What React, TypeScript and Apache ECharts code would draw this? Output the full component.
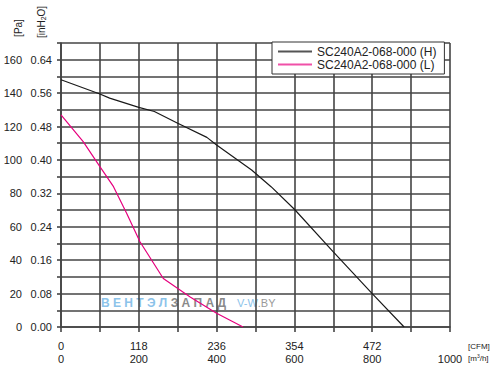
import React, { useEffect, useRef } from "react";
import * as echarts from "echarts";

const seriesNames = ["SC240A2-068-000 (H)", "SC240A2-068-000 (L)"];
const hCurve: [number, number][] = [
  [0, 148], [100, 139.5], [125, 137], [200, 131.5], [240, 129], [300, 122],
  [375, 113.5], [400, 109], [490, 94], [540, 84], [600, 70.5], [700, 45],
  [800, 20], [882, 0],
];
const lCurve: [number, number][] = [
  [0, 127], [57, 111], [100, 96], [135, 84], [169, 68], [203, 51],
  [263, 29], [332, 18], [400, 8.2], [468, 0],
];
const paLabels = ["0", "20", "40", "60", "80", "100", "120", "140", "160"];
const inLabels = ["0.00", "0.08", "0.16", "0.24", "0.32", "0.40", "0.48", "0.56", "0.64"];
const cfmLabels = ["0", "118", "236", "354", "472", ""];
const m3hLabels = ["0", "200", "400", "600", "800", "1000"];

const FONT = "Arial, 'Liberation Sans', sans-serif";
const GRID = "#444";

export default function App() {
  const ref = useRef<HTMLDivElement>(null);
  useEffect(() => {
    if (!ref.current) return;
    const chart = echarts.init(ref.current, null, { renderer: "svg" });
    const yLabel = (arr: string[]) => (v: number) =>
      v % 20 === 0 && v / 20 < arr.length ? arr[v / 20] : "";
    chart.setOption({
      animation: false,
      backgroundColor: "#fff",
      grid: { left: 61, top: 43, right: 51, bottom: 40 },
      legend: {
        left: 272,
        top: 42,
        orient: "vertical",
        width: 178,
        backgroundColor: "#fff",
        borderColor: "#333",
        borderWidth: 1,
        borderRadius: 0,
        padding: [3, 8, 3, 6],
        itemGap: 0,
        itemWidth: 34,
        itemHeight: 2,
        icon: "rect",
        textStyle: { fontFamily: FONT, fontSize: 12, color: "#222", lineHeight: 13 },
        data: seriesNames,
      },
      xAxis: {
        type: "value",
        min: 0,
        max: 1000,
        interval: 100,
        axisLine: { show: true, lineStyle: { color: GRID, width: 1.6 } },
        axisTick: { show: true, length: 5, lineStyle: { color: GRID, width: 1.6 } },
        splitLine: { show: true, lineStyle: { color: GRID, width: 1.6 } },
        axisLabel: {
          margin: 12,
          fontFamily: FONT,
          fontSize: 11,
          color: "#222",
          lineHeight: 13,
          showMaxLabel: true,
          formatter: (v: number) => {
            if (v % 200 !== 0) return "";
            const i = v / 200;
            return `${cfmLabels[i]}\n${m3hLabels[i]}`;
          },
        },
      },
      yAxis: [
        {
          type: "value",
          min: 0,
          max: 170,
          interval: 10,
          position: "left",
          axisLine: { show: true, lineStyle: { color: GRID, width: 1.6 } },
          axisTick: { show: true, length: 4, lineStyle: { color: GRID, width: 1.6 } },
          splitLine: { show: true, lineStyle: { color: GRID, width: 1.6 } },
          axisLabel: {
            margin: 9,
            fontFamily: FONT,
            fontSize: 11,
            color: "#222",
            showMaxLabel: true,
            formatter: yLabel(inLabels),
          },
        },
        {
          type: "value",
          min: 0,
          max: 170,
          interval: 10,
          position: "left",
          axisLine: { show: false },
          axisTick: { show: false },
          splitLine: { show: false },
          axisLabel: {
            margin: 39,
            fontFamily: FONT,
            fontSize: 11,
            color: "#222",
            formatter: yLabel(paLabels),
          },
        },
      ],
      graphic: [
        {
          type: "text",
          x: 18,
          y: 28,
          rotation: Math.PI / 2,
          style: {
            text: "[Pa]",
            fontFamily: FONT,
            fontSize: 10,
            fill: "#222",
            align: "center",
            verticalAlign: "middle",
          },
        },
        {
          type: "text",
          x: 41,
          y: 22,
          rotation: Math.PI / 2,
          style: {
            text: "{n|[inH}{s|2}{n|O]}",
            rich: {
              n: { fontFamily: FONT, fontSize: 10, fill: "#222" },
              s: { fontFamily: FONT, fontSize: 7, fill: "#222", padding: [5, 0, 0, 0] },
            },
            align: "center",
            verticalAlign: "middle",
          },
        },
        {
          type: "text",
          x: 468,
          y: 346,
          style: { text: "[CFM]", fontFamily: FONT, fontSize: 8, fill: "#222", verticalAlign: "middle" },
        },
        {
          type: "text",
          x: 468,
          y: 358,
          style: {
            text: "{n|[m}{s|3}{n|/h]}",
            rich: {
              n: { fontFamily: FONT, fontSize: 8, fill: "#222" },
              s: { fontFamily: FONT, fontSize: 5, fill: "#222", padding: [0, 0, 4, 0] },
            },
            verticalAlign: "middle",
          },
        },
        {
          type: "text",
          x: 101,
          y: 303,
          z: 0,
          style: {
            text: "{b|В Е Н Т Э Л }{g|З А П А Д}",
            rich: {
              b: { fontFamily: FONT, fontWeight: "bold", fontSize: 12, fill: "#8cc3ea" },
              g: { fontFamily: FONT, fontWeight: "bold", fontSize: 12, fill: "#8a8a8a" },
            },
            verticalAlign: "middle",
          },
        },
        {
          type: "text",
          x: 237,
          y: 303,
          z: 0,
          style: {
            text: "{b|V-W}{g|.BY}",
            rich: {
              b: { fontFamily: FONT, fontSize: 11, fill: "#8cc3ea" },
              g: { fontFamily: FONT, fontSize: 11, fill: "#9a9a9a" },
            },
            verticalAlign: "middle",
          },
        },
      ],
      series: [
        {
          name: seriesNames[0],
          type: "line",
          data: hCurve,
          symbol: "none",
          z: 5,
          lineStyle: { color: "#1a1a1a", width: 1.2 },
          itemStyle: { color: "#555" },
        },
        {
          name: seriesNames[1],
          type: "line",
          data: lCurve,
          symbol: "none",
          z: 5,
          lineStyle: { color: "#e6007e", width: 1.2 },
          itemStyle: { color: "#f050a8" },
        },
      ],
    });
    return () => chart.dispose();
  }, []);
  return <div ref={ref} style={{ width: 501, height: 367, position: "absolute", left: 0, top: 0 }} />;
}
